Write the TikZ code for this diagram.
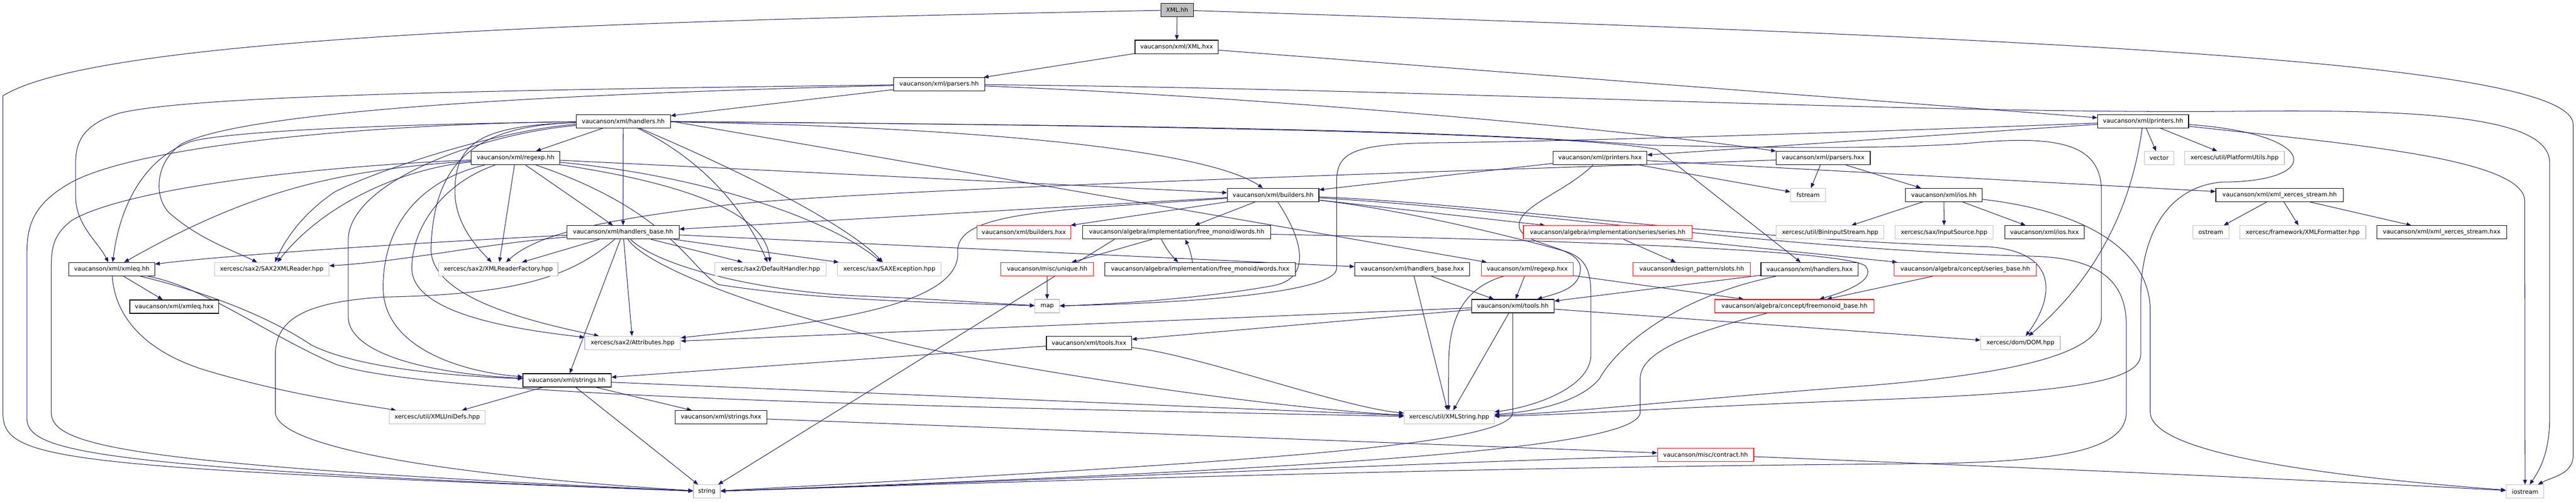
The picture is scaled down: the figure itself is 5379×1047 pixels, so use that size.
\documentclass[tikz,border=0pt]{standalone}
\usepackage{fontspec}
\setmainfont{DejaVu Sans}
\usetikzlibrary{arrows.meta}
\definecolor{edgecol}{HTML}{191970}
\definecolor{graybd}{HTML}{BFBFBF}
\pgfdeclarelayer{back}
\pgfdeclarelayer{bg}
\pgfsetlayers{back,bg,main}
\begin{document}
\begin{tikzpicture}[x=1pt,y=-1pt,
  nd/.style={rectangle,draw=black,fill=white,line width=1.3pt,minimum height=28pt,inner sep=0pt,font=\fontsize{12.5pt}{15pt}\selectfont,text=black},
  ext/.style={nd,draw=graybd},
  trunc/.style={nd,draw=red},
  rootnd/.style={nd,fill=graybd},
  e/.style={draw=edgecol,line width=1.1pt,-{Triangle[length=10pt,width=8pt]}}]
\begin{pgfonlayer}{back}
\fill[white] (0,0) rectangle (5379,1047);
\end{pgfonlayer}
\useasboundingbox (0,0) rectangle (5379,1047);
% nodes
\node[rootnd,minimum width=68pt] (root) at (2458,21) {XML.hh};
\node[nd,minimum width=174pt] (xmlhxx) at (2457,98) {vaucanson/xml/XML.hxx};
\node[nd,minimum width=190pt] (parsh) at (1961,176) {vaucanson/xml/parsers.hh};
\node[nd,minimum width=197pt] (handh) at (1301.5,253) {vaucanson/xml/handlers.hh};
\node[nd,minimum width=190pt] (prnh) at (4475,253) {vaucanson/xml/printers.hh};
\node[nd,minimum width=185pt] (rgxh) at (1076.5,330) {vaucanson/xml/regexp.hh};
\node[nd,minimum width=196pt] (prnx) at (3341,330) {vaucanson/xml/printers.hxx};
\node[nd,minimum width=196pt] (parsx) at (3807,330) {vaucanson/xml/parsers.hxx};
\node[ext,minimum width=61pt] (vec) at (4508.5,330) {vector};
\node[ext,minimum width=208pt] (plat) at (4666,330) {xercesc/util/PlatformUtils.hpp};
\node[nd,minimum width=191pt] (bldh) at (2658.5,407) {vaucanson/xml/builders.hh};
\node[ext,minimum width=73pt] (fstr) at (3775.5,407) {fstream};
\node[nd,minimum width=160pt] (iosh) at (4059,407) {vaucanson/xml/ios.hh};
\node[nd,minimum width=266pt] (xxs) at (4760,407) {vaucanson/xml/xml\_xerces\_stream.hh};
\node[nd,minimum width=234pt] (hbh) at (1301,485) {vaucanson/xml/handlers\_base.hh};
\node[trunc,minimum width=196pt] (bldx) at (2138,485) {vaucanson/xml/builders.hxx};
\node[nd,minimum width=392pt] (wrdh) at (2457,485) {vaucanson/algebra/implementation/free\_monoid/words.hh};
\node[trunc,minimum width=352pt] (serh) at (3357,485) {vaucanson/algebra/implementation/series/series.hh};
\node[ext,minimum width=225pt] (bin) at (3821.5,485) {xercesc/util/BinInputStream.hpp};
\node[ext,minimum width=205pt] (inps) at (4059.5,485) {xercesc/sax/InputSource.hpp};
\node[nd,minimum width=166pt] (iosx) at (4269,485) {vaucanson/xml/ios.hxx};
\node[ext,minimum width=75pt] (ostr) at (4616.5,485) {ostream};
\node[ext,minimum width=263pt] (fmtr) at (4808.5,485) {xercesc/framework/XMLFormatter.hpp};
\node[nd,minimum width=271pt] (xxsx) at (5098.5,485) {vaucanson/xml/xml\_xerces\_stream.hxx};
\node[nd,minimum width=179pt] (xeqh) at (233.5,562) {vaucanson/xml/xmleq.hh};
\node[ext,minimum width=239pt] (sax2) at (567.5,562) {xercesc/sax2/SAX2XMLReader.hpp};
\node[ext,minimum width=249pt] (rfac) at (1040.5,562) {xercesc/sax2/XMLReaderFactory.hpp};
\node[ext,minimum width=232pt] (dflt) at (1609,562) {xercesc/sax2/DefaultHandler.hpp};
\node[ext,minimum width=216pt] (sexc) at (1857,562) {xercesc/sax/SAXException.hpp};
\node[trunc,minimum width=193pt] (uniq) at (2186.5,562) {vaucanson/misc/unique.hh};
\node[nd,minimum width=398pt] (wrdx) at (2506,562) {vaucanson/algebra/implementation/free\_monoid/words.hxx};
\node[nd,minimum width=240pt] (hbx) at (2949,562) {vaucanson/xml/handlers\_base.hxx};
\node[trunc,minimum width=192pt] (rgxx) at (3189,562) {vaucanson/xml/regexp.hxx};
\node[trunc,minimum width=245pt] (slot) at (3532.5,562) {vaucanson/design\_pattern/slots.hh};
\node[nd,minimum width=203pt] (hdlx) at (3778.5,562) {vaucanson/xml/handlers.hxx};
\node[trunc,minimum width=297pt] (sbase) at (4103.5,562) {vaucanson/algebra/concept/series\_base.hh};
\node[nd,minimum width=186pt] (xeqx) at (364,640) {vaucanson/xml/xmleq.hxx};
\node[ext,minimum width=51pt] (map) at (2186.5,639) {map};
\node[nd,minimum width=172pt] (tlh) at (3159,639) {vaucanson/xml/tools.hh};
\node[trunc,minimum width=332pt] (fmb) at (3747,639) {vaucanson/algebra/concept/freemonoid\_base.hh};
\node[ext,minimum width=200pt] (attr) at (1321,716) {xercesc/sax2/Attributes.hpp};
\node[nd,minimum width=178pt] (tlx) at (2274,716) {vaucanson/xml/tools.hxx};
\node[ext,minimum width=166pt] (dom) at (4219,716) {xercesc/dom/DOM.hpp};
\node[nd,minimum width=184pt] (strh) at (1184,794) {vaucanson/xml/strings.hh};
\node[ext,minimum width=200pt] (unid) at (913,871) {xercesc/util/XMLUniDefs.hpp};
\node[nd,minimum width=191pt] (strx) at (1505.5,871) {vaucanson/xml/strings.hxx};
\node[ext,minimum width=188pt] (xstr) at (3026,871) {xercesc/util/XMLString.hpp};
\node[trunc,minimum width=201pt] (ctr) at (3561.5,949) {vaucanson/misc/contract.hh};
\node[ext,minimum width=56pt] (str) at (1476,1026) {string};
\node[ext,minimum width=79pt] (ios) at (5272.5,1026) {iostream};
% edges
\begin{pgfonlayer}{bg}
% XML.hh
\draw[e] (root) -- (xmlhxx);
\draw[e] (root) .. controls (1200,45) and (200,80) .. (6,200) -- (6,860) .. controls (6,960) and (100,975) .. (str);
\draw[e] (root) .. controls (4300,80) and (5373,130) .. (5373,260) -- (5373,950) .. controls (5373,990) and (5330,995) .. (ios);
% XML.hxx
\draw[e] (xmlhxx) -- (parsh);
\draw[e] (xmlhxx) -- (prnh);
% parsers.hh
\draw[e] (parsh) -- (handh);
\draw[e] (parsh) .. controls (1000,188) and (400,200) .. (250,236) .. controls (170,260) and (158,300) .. (158,340) -- (158,410) .. controls (158,470) and (205,505) .. (xeqh);
\draw[e] (parsh) .. controls (1000,200) and (500,240) .. (380,300) .. controls (320,340) and (320,420) .. (360,450) .. controls (420,500) and (480,520) .. (sax2);
\draw[e] (parsh) .. controls (2600,200) and (3400,270) .. (parsx);
\draw[e] (parsh) .. controls (3000,185) and (4000,240) .. (4700,232) .. controls (5100,228) and (5324,250) .. (5324,340) -- (5324,870) .. controls (5324,950) and (5300,985) .. (ios);
% handlers.hh
\draw[e] (handh) -- (rgxh);
\draw[e] (handh) -- (hbh);
\draw[e] (handh) .. controls (900,258) and (500,270) .. (400,295) .. controls (300,330) and (250,430) .. (xeqh);
\draw[e] (handh) .. controls (1050,270) and (800,350) .. (700,400) .. controls (640,440) and (600,490) .. (sax2);
\draw[e] (handh) .. controls (1000,262) and (950,300) .. (950,400) .. controls (950,470) and (1000,520) .. (rfac);
\draw[e] (handh) .. controls (1480,340) and (1560,450) .. (dflt);
\draw[e] (handh) .. controls (1600,380) and (1780,480) .. (sexc);
\draw[e] (handh) .. controls (1000,262) and (905,330) .. (900,520) .. controls (900,620) and (1100,670) .. (attr);
\draw[e] (handh) .. controls (1000,280) and (730,380) .. (727,500) -- (727,660) .. controls (727,740) and (900,780) .. (strh);
\draw[e] (handh) .. controls (800,258) and (300,300) .. (150,380) .. controls (60,430) and (56,480) .. (56,540) -- (56,870) .. controls (56,940) and (150,975) .. (str);
\draw[e] (handh) .. controls (1900,262) and (2500,300) .. (bldh);
\draw[e] (handh) .. controls (2500,262) and (3300,280) .. (3460,312) -- (hdlx);
\draw[e] (handh.east) -- (rgxx);
\draw[e] (handh) .. controls (2400,262) and (3000,270) .. (3440,303) .. controls (3700,308) and (3900,312) .. (4100,300) .. controls (4300,280) and (4388,300) .. (4388,400) -- (4388,660) .. controls (4388,740) and (4200,780) .. (3900,805) .. controls (3500,835) and (3300,860) .. (xstr);
% regexp.hh
\draw[e] (rgxh) -- (hbh);
\draw[e] (rgxh) -- (rfac);
\draw[e] (rgxh) .. controls (850,350) and (680,420) .. (sax2);
\draw[e] (rgxh) .. controls (700,355) and (520,400) .. (xeqh);
\draw[e] (rgxh) .. controls (1480,390) and (1600,460) .. (dflt);
\draw[e] (rgxh) .. controls (1500,370) and (1750,470) .. (sexc);
\draw[e] (rgxh) .. controls (1400,440) and (1440,560) .. (1500,594) .. controls (1700,625) and (1900,630) .. (map);
\draw[e] (rgxh) .. controls (930,380) and (860,470) .. (860,560) .. controls (860,660) and (1100,690) .. (attr);
\draw[e] (rgxh) .. controls (900,370) and (800,450) .. (800,600) .. controls (800,720) and (950,775) .. (strh);
\draw[e] (rgxh) .. controls (600,350) and (250,400) .. (150,460) .. controls (110,490) and (107,520) .. (107,560) -- (107,860) .. controls (107,930) and (250,970) .. (str);
\draw[e] (rgxh) -- (bldh);
% handlers_base.hh
\draw[e] (hbh) .. controls (900,505) and (500,530) .. (xeqh);
\draw[e] (hbh) .. controls (1000,510) and (850,545) .. (sax2);
\draw[e] (hbh) -- (rfac);
\draw[e] (hbh) -- (dflt);
\draw[e] (hbh) -- (sexc);
\draw[e] (hbh) -- (attr);
\draw[e] (hbh) -- (strh);
\draw[e] (hbh) .. controls (1380,560) and (1600,610) .. (1800,618) .. controls (1950,624) and (2050,632) .. (map);
\draw[e] (hbh) .. controls (1200,570) and (1100,615) .. (800,620) .. controls (650,630) and (575,660) .. (575,740) -- (575,860) .. controls (575,930) and (900,990) .. (str);
\draw[e] (hbh) .. controls (1360,570) and (1700,690) .. (2100,760) .. controls (2500,830) and (2800,860) .. (xstr);
\draw[e] (hbh) -- (hbx);
% builders.hh
\draw[e] (bldh) -- (bldx);
\draw[e] (bldh) -- (wrdh);
\draw[e] (bldh) -- (hbh);
\draw[e] (bldh) -- (serh);
\draw[e] (bldh) .. controls (2200,440) and (1990,440) .. (2000,530) .. controls (2000,650) and (1650,680) .. (attr);
\draw[e] (bldh) .. controls (2720,500) and (2740,580) .. (2660,596) .. controls (2500,625) and (2300,636) .. (map);
\draw[e] (bldh) .. controls (3100,425) and (3600,500) .. (4150,515) .. controls (4300,525) and (4290,620) .. (dom);
\draw[e] (bldh) .. controls (3200,440) and (3700,520) .. (4250,535) .. controls (4400,540) and (4440,600) .. (4440,680) -- (4440,860) .. controls (4440,940) and (4300,965) .. (4000,968) .. controls (3000,975) and (2000,1010) .. (str);
\draw[e] (bldh) .. controls (2950,440) and (3200,505) .. (3270,525) .. controls (3315,540) and (3322,570) .. (3322,620) -- (3322,740) .. controls (3322,810) and (3200,850) .. (xstr);
% printers.hxx
\draw[e] (prnx) -- (bldh);
\draw[e] (prnx) -- (fstr);
\draw[e] (prnx) -- (xxs);
\draw[e] (prnx) .. controls (3270,400) and (3172,430) .. (3172,470) .. controls (3172,515) and (3300,510) .. (3300,560) .. controls (3300,600) and (3260,610) .. (tlh);
% parsers.hxx
\draw[e] (parsx) .. controls (3300,350) and (1800,392) .. (1500,430) .. controls (1250,460) and (1120,490) .. (rfac);
\draw[e] (parsx) -- (fstr);
\draw[e] (parsx) -- (iosh);
% printers.hh
\draw[e] (prnh) -- (prnx);
\draw[e] (prnh) -- (vec);
\draw[e] (prnh) -- (plat);
\draw[e] (prnh) .. controls (4900,300) and (5272,330) .. (5272,420) -- (ios);
\draw[e] (prnh) .. controls (4455,400) and (4400,560) .. (dom);
\draw[e] (prnh) .. controls (4850,280) and (4850,380) .. (4640,380) .. controls (4520,390) and (4470,500) .. (4470,620) -- (4470,740) .. controls (4470,800) and (4300,820) .. (3900,835) .. controls (3500,850) and (3300,865) .. (xstr);
\draw[e] (prnh) .. controls (4000,272) and (3300,295) .. (3000,298) .. controls (2820,300) and (2791,320) .. (2791,380) -- (2791,560) .. controls (2791,610) and (2500,632) .. (map);
% ios.hh
\draw[e] (iosh) -- (bin);
\draw[e] (iosh) -- (inps);
\draw[e] (iosh) -- (iosx);
\draw[e] (iosh) .. controls (4350,440) and (4490,520) .. (4490,650) -- (4490,860) .. controls (4490,940) and (4800,990) .. (ios);
% xml_xerces_stream.hh
\draw[e] (xxs) -- (ostr);
\draw[e] (xxs) -- (fmtr);
\draw[e] (xxs) -- (xxsx);
% words
\draw[e] ([xshift=-32pt]wrdh.south) to[bend right=8] ([xshift=-46pt]wrdx.north);
\draw[e] ([xshift=-16pt]wrdx.north) to[bend right=8] ([xshift=18pt]wrdh.south);
\draw[e] (wrdh) -- (uniq);
\draw[e] ([xshift=-130pt]wrdh.south) -- (str);
\draw[e] (wrdh) .. controls (3200,500) and (3850,520) .. (3895,555) .. controls (3920,585) and (3850,610) .. (fmb);
\draw[e] (uniq) -- (map);
% series
\draw[e] (serh) -- (slot);
\draw[e] (serh) -- (sbase);
\draw[e] (sbase) -- (fmb);
% .hxx files
\draw[e] (rgxx) -- (fmb);
\draw[e] (rgxx) -- (tlh);
\draw[e] (rgxx) .. controls (3060,600) and (3025,660) .. (3025,760) .. controls (3025,800) and (3024,830) .. (xstr);
\draw[e] (hbx) -- (tlh);
\draw[e] (hbx) -- (xstr);
\draw[e] (hdlx) -- (tlh);
\draw[e] (hdlx) .. controls (3500,620) and (3380,720) .. (3340,790) .. controls (3300,840) and (3200,860) .. (xstr);
% tools
\draw[e] (tlh) -- (tlx);
\draw[e] (tlh) -- (attr);
\draw[e] (tlh) -- (xstr);
\draw[e] (tlh) -- (dom);
\draw[e] (tlh) -- (3159,860) .. controls (3159,930) and (2600,965) .. (str);
\draw[e] (tlx) -- (strh);
\draw[e] (tlx) .. controls (2500,740) and (2800,850) .. (xstr);
% freemonoid, contract
\draw[e] (fmb) .. controls (3550,690) and (3425,730) .. (3425,790) -- (3425,860) .. controls (3425,930) and (2900,975) .. (str);
\draw[e] (ctr) .. controls (3000,965) and (2000,1010) .. (str);
\draw[e] (ctr) .. controls (4200,975) and (4800,1000) .. (ios);
% xmleq, strings
\draw[e] (xeqh) -- (xeqx);
\draw[e] (xeqh) .. controls (240,660) and (300,730) .. (420,770) .. controls (600,825) and (760,845) .. (unid);
\draw[e] (xeqh) .. controls (430,610) and (560,660) .. (650,720) .. controls (750,770) and (950,785) .. (strh);
\draw[e] (xeqh) .. controls (430,600) and (560,700) .. (700,760) .. controls (900,830) and (2000,850) .. (xstr);
\draw[e] (strh) -- (unid);
\draw[e] (strh) -- (strx);
\draw[e] (strh) -- (str);
\draw[e] (strh) -- (xstr);
\draw[e] (strx) -- (ctr);
\end{pgfonlayer}
\end{tikzpicture}
\end{document}
